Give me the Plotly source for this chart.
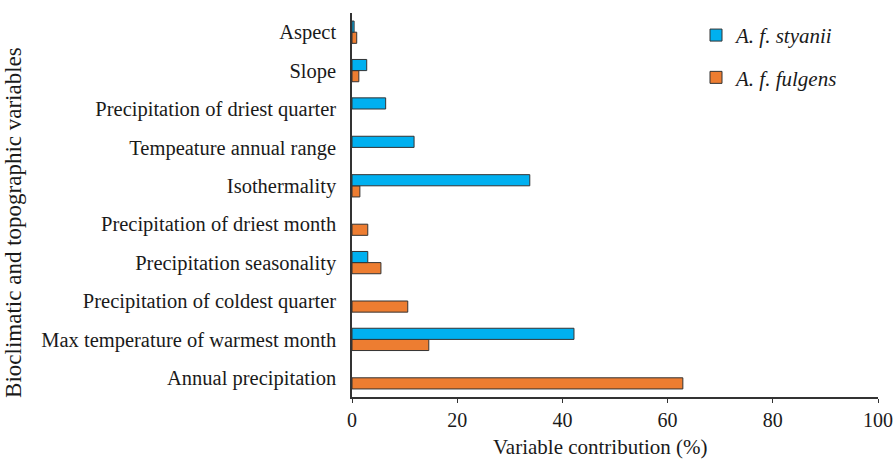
import plotly.graph_objects as go

categories = [
    "Annual precipitation",
    "Max temperature of warmest month",
    "Precipitation of coldest quarter",
    "Precipitation seasonality",
    "Precipitation of driest month",
    "Isothermality",
    "Tempeature annual range",
    "Precipitation of driest quarter",
    "Slope",
    "Aspect",
]
styanii = [None, 42.2, None, 3.0, None, 33.8, 11.8, 6.4, 2.8, 0.4]
fulgens = [62.9, 14.6, 10.6, 5.5, 3.0, 1.5, None, None, 1.3, 0.9]
x_ticks = [0, 20, 40, 60, 80, 100]

font_family = "Liberation Serif, Times New Roman, serif"
text_color = "#1a1a1a"

fig = go.Figure()
fig.add_trace(go.Bar(
    y=categories, x=fulgens, orientation="h", name="<i>A. f. fulgens</i>",
    marker=dict(color="#ED7D31", line=dict(color="#333333", width=1)),
    legendrank=2, legendgroup="g0",
))
fig.add_trace(go.Bar(
    y=categories, x=styanii, orientation="h", name="<i>A. f. styanii</i>",
    marker=dict(color="#00B0F0", line=dict(color="#333333", width=1)),
    legendrank=1, legendgroup="g1",
))

fig.update_layout(
    width=896, height=462,
    margin=dict(l=352, r=18, t=13, b=65),
    paper_bgcolor="white", plot_bgcolor="white",
    barmode="group", bargap=0.42, bargroupgap=0,
    font=dict(family=font_family, size=20.5, color=text_color),
    showlegend=True,
    legend=dict(
        x=0.654, y=0.995, xanchor="left", yanchor="top",
        font=dict(family=font_family, size=21, color=text_color),
        bgcolor="rgba(0,0,0,0)", tracegroupgap=12,
        itemwidth=30,
    ),
    xaxis=dict(
        range=[0, 100], tickvals=x_ticks, ticks="outside", ticklen=4,
        tickcolor="#333", showline=True, linecolor="#333", linewidth=1.5,
        showgrid=False, zeroline=False, automargin=False,
        tickfont=dict(size=20),
    ),
    yaxis=dict(
        showline=True, linecolor="#333", linewidth=1.5, showgrid=False,
        ticks="", ticklabelstandoff=10, tickfont=dict(size=20.5),
        automargin=False,
    ),
    annotations=[
        dict(
            text="Bioclimatic and topographic variables",
            xref="paper", yref="paper", x=-0.6426, y=0.456,
            xanchor="center", yanchor="middle", textangle=-90,
            showarrow=False, font=dict(size=23, family=font_family, color=text_color),
        ),
        dict(
            text="Variable contribution (%)",
            xref="paper", yref="paper", x=0.473, y=-0.130,
            xanchor="center", yanchor="middle",
            showarrow=False, font=dict(size=21, family=font_family, color=text_color),
        ),
    ],
)

fig.write_html(
    "out.html",
    config={"displayModeBar": False},
    post_script="document.body.style.margin='0';document.body.style.overflow='hidden';",
)
